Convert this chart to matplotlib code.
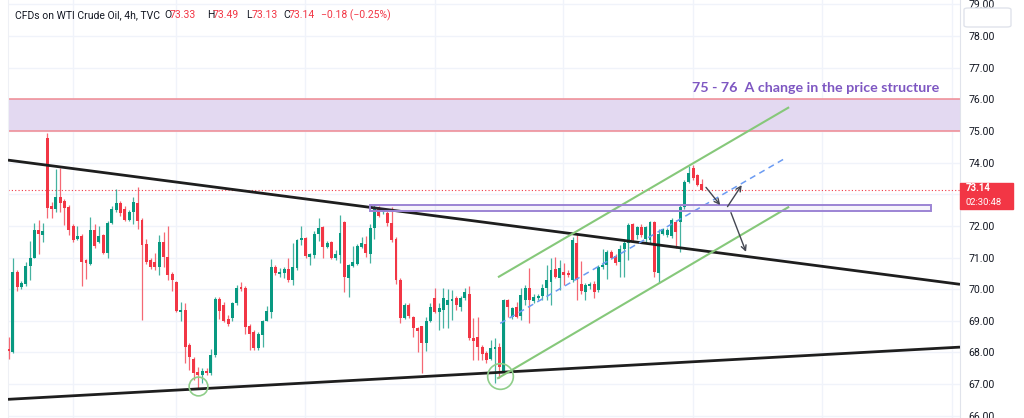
import numpy as np
import matplotlib
matplotlib.use('Agg')
import matplotlib.pyplot as plt
from matplotlib.patches import Rectangle, FancyBboxPatch

# 4h candles, CFDs on WTI Crude Oil
opens = [68.10, 68.02, 70.55, 70.08, 70.15, 70.74, 71.00, 71.87, 71.70, 74.79,
         72.63, 72.52, 72.92, 72.79, 72.60, 72.00, 71.58, 71.68, 70.92, 70.80,
         71.87, 71.50, 71.71, 71.16, 72.10, 72.50, 72.72, 72.55, 72.20, 72.45,
         72.73, 72.19, 71.43, 70.92, 70.87, 70.70, 71.50, 71.03, 70.47, 70.24,
         69.29, 69.34, 68.24, 67.80, 67.37, 67.29, 67.40, 67.35, 67.92, 69.68,
         69.50, 69.05, 69.10, 69.55, 70.08, 70.04, 68.83, 68.66, 68.14, 68.55,
         69.00, 69.29, 70.71, 70.48, 70.51, 70.64, 70.29, 70.66, 71.55, 71.63,
         71.03, 71.08, 71.74, 71.97, 71.32, 71.50, 70.98, 71.08, 72.13, 70.37,
         70.74, 70.80, 71.34, 71.43, 71.10, 71.92, 72.60, 72.43, 72.40, 72.10,
         71.60, 70.29, 69.10, 69.50, 69.12, 68.77, 68.84, 68.29, 69.00, 69.73,
         69.29, 69.34, 69.50, 69.63, 69.71, 69.45, 69.71, 69.85, 68.45, 68.50,
         68.18, 67.99, 67.79, 68.12, 68.18, 67.40, 69.66, 69.13, 69.43, 69.15,
         69.66, 70.03, 69.64, 69.72, 69.78, 70.03, 70.23, 70.64, 70.35, 70.55,
         70.50, 70.29, 71.46, 70.15, 69.90, 70.10, 70.16, 69.97, 70.70, 70.78,
         71.18, 71.05, 70.87, 71.26, 71.45, 72.06, 71.71, 71.97, 71.60, 71.55,
         72.13, 70.52, 71.74, 71.72, 71.68, 72.13, 72.13, 72.60, 73.40, 73.82,
         73.60, 73.33]
highs = [68.50, 71.00, 70.60, 70.25, 70.85, 71.52, 72.10, 72.19, 72.10, 74.93,
         72.75, 73.79, 73.84, 72.85, 72.65, 72.05, 72.00, 71.75, 70.95, 72.29,
         72.05, 72.00, 71.75, 72.15, 72.62, 73.16, 72.78, 72.62, 72.50, 72.90,
         73.24, 72.25, 71.60, 71.00, 71.15, 71.70, 71.80, 72.00, 70.55, 70.25,
         69.60, 69.55, 68.30, 67.85, 67.55, 67.50, 67.50, 68.10, 69.75, 69.75,
         69.60, 69.20, 69.60, 70.13, 70.23, 70.10, 68.90, 68.70, 68.65, 69.03,
         69.47, 70.94, 70.76, 70.68, 70.70, 70.98, 71.45, 71.58, 72.00, 71.66,
         71.15, 71.84, 72.24, 72.00, 71.53, 71.53, 71.25, 72.34, 72.17, 70.80,
         71.37, 71.42, 71.66, 71.68, 72.05, 72.66, 72.64, 72.57, 72.50, 72.60,
         71.65, 70.34, 69.55, 69.55, 69.15, 68.80, 68.85, 69.13, 69.55, 70.03,
         69.55, 70.04, 70.00, 69.97, 69.80, 69.80, 70.03, 70.10, 69.10, 69.13,
         68.25, 68.05, 68.40, 68.46, 68.31, 69.70, 69.70, 69.45, 69.60, 70.04,
         70.13, 70.67, 69.85, 69.85, 70.18, 70.76, 71.00, 71.03, 70.92, 70.84,
         70.60, 71.66, 71.77, 70.90, 70.20, 70.22, 70.25, 70.76, 71.26, 71.24,
         71.25, 71.10, 71.40, 71.60, 72.08, 72.10, 72.00, 72.05, 72.00, 72.17,
         72.17, 71.91, 71.95, 71.92, 72.24, 72.20, 72.65, 73.45, 73.90, 73.92,
         73.65, 73.49]
lows = [67.80, 67.97, 69.95, 70.00, 70.10, 70.29, 70.98, 71.10, 71.50, 72.24,
        72.24, 72.45, 72.45, 72.03, 71.71, 71.50, 71.55, 70.10, 70.31, 70.75,
        71.30, 71.45, 71.10, 71.00, 72.05, 72.45, 72.30, 72.15, 72.15, 72.05,
        71.90, 69.03, 70.80, 70.65, 70.60, 70.45, 70.70, 70.30, 69.95, 69.28,
        69.00, 67.67, 67.45, 67.13, 66.85, 67.05, 67.30, 67.30, 67.85, 69.05,
        68.95, 68.85, 69.00, 69.50, 69.95, 68.60, 68.08, 68.08, 68.08, 68.18,
        68.98, 69.08, 70.45, 70.40, 70.34, 70.24, 70.13, 70.60, 71.40, 71.00,
        70.76, 70.98, 71.53, 70.98, 71.30, 70.95, 70.92, 70.82, 69.92, 69.76,
        70.70, 70.75, 71.30, 71.03, 70.82, 71.60, 72.28, 72.38, 72.00, 71.50,
        70.15, 68.92, 69.05, 69.10, 68.50, 68.03, 67.34, 68.05, 68.95, 69.25,
        68.70, 68.77, 68.77, 69.03, 69.35, 69.30, 69.65, 68.40, 67.77, 67.76,
        67.76, 67.68, 67.75, 67.04, 67.20, 67.32, 69.13, 69.05, 69.10, 69.03,
        69.50, 68.93, 69.55, 69.66, 69.66, 69.66, 69.50, 70.36, 69.97, 70.13,
        70.40, 70.22, 69.66, 69.85, 69.66, 70.00, 69.72, 69.90, 70.65, 70.31,
        70.95, 70.75, 70.40, 70.40, 70.92, 71.50, 71.60, 71.65, 71.50, 71.45,
        70.39, 70.19, 71.70, 71.65, 71.62, 71.30, 71.17, 72.55, 73.35, 73.45,
        73.25, 73.13]
closes = [68.05, 70.55, 70.08, 70.20, 70.74, 71.00, 71.87, 71.73, 71.85, 72.58,
          72.52, 72.92, 72.73, 72.58, 71.87, 71.55, 71.68, 70.87, 70.84, 71.87,
          71.37, 71.68, 71.16, 72.10, 72.52, 72.72, 72.40, 72.20, 72.45, 72.76,
          72.16, 71.40, 70.87, 70.70, 70.69, 71.50, 71.03, 70.45, 70.30, 69.30,
          69.34, 68.18, 67.85, 67.34, 67.29, 67.43, 67.35, 67.92, 69.68, 69.30,
          69.00, 68.90, 69.55, 70.04, 70.00, 68.80, 68.60, 68.14, 68.60, 69.00,
          69.30, 70.71, 70.50, 70.54, 70.64, 70.29, 70.69, 71.55, 71.61, 71.05,
          71.11, 71.74, 71.95, 71.32, 71.45, 70.98, 71.11, 71.79, 70.39, 70.77,
          70.87, 71.37, 71.45, 71.13, 71.92, 72.53, 72.32, 72.50, 72.08, 71.55,
          70.29, 69.08, 69.50, 69.15, 68.77, 68.68, 68.29, 69.00, 69.45, 69.29,
          69.40, 69.71, 69.66, 69.69, 69.50, 69.73, 69.92, 68.45, 68.37, 68.18,
          67.95, 67.76, 68.13, 68.16, 67.55, 69.66, 69.45, 69.40, 69.13, 69.82,
          70.03, 69.66, 69.76, 69.80, 70.03, 70.29, 70.60, 70.39, 70.67, 70.45,
          70.46, 71.55, 70.29, 69.95, 70.13, 70.15, 69.90, 70.71, 70.78, 71.18,
          70.98, 70.82, 71.26, 71.47, 72.03, 71.55, 71.97, 71.71, 71.97, 72.13,
          70.55, 71.74, 71.89, 71.87, 72.19, 71.82, 72.60, 73.40, 73.66, 73.50,
          73.30, 73.14]

change, change_pct = -0.18, -0.25
countdown = '02:30:48'
price_ticks = list(range(66, 80))

# drawings (bar index, price)
upper_trend = ([-0.12, 221.0], [74.08, 70.155])
lower_trend = ([-0.12, 221.0], [66.52, 68.17])
channel_top = ([113.9, 181.1], [70.395, 75.735])
channel_bottom = ([113.7, 181.1], [67.19, 72.59])
channel_mid = ([114.2, 180.8], [68.92, 74.17])
zone_low, zone_high = 75.0, 76.0
box_x, box_low, box_high = (84.0, 214.2), 72.47, 72.66
arrows = [((162.0, 73.22), (165.3, 72.66)),
          ((167.0, 72.61), (170.3, 73.29)),
          ((167.8, 72.42), (171.3, 71.18))]
circles = [(44.1, 66.93, 13.5), (114.1, 67.25, 18.5)]
note = '75 - 76  A change in the price structure'
note_pos = (158.7, 76.24)

UP, DOWN = '#089981', '#f23645'
TXT = '#131722'

fig = plt.figure(figsize=(10.24, 4.18), dpi=100)
ax = fig.add_axes([8 / 1024, 0, 952 / 1024, 1])
xlo, xhi = -0.12, 221.0
ylo, yhi = 65.93, 79.14
ax.set_xlim(xlo, xhi)
ax.set_ylim(ylo, yhi)

# grid; the 73.00 label sits under the last-price tag, so leave it blank
ax.set_xticks([15.0, 38.9, 68.9, 99.1, 128.8, 159.0, 189.0, 219.2])
ax.set_xticklabels([])
ax.set_yticks(price_ticks)
ax.set_yticklabels(['' if p == 73 else '%.2f' % p for p in price_ticks])
ax.yaxis.tick_right()
ax.tick_params(axis='y', length=0, pad=6, labelsize=7.6, labelcolor=TXT)
ax.tick_params(axis='x', length=0)
ax.grid(True, color='#f0f3fa', lw=1)
ax.set_axisbelow(True)
for s in ['top', 'bottom']:
    ax.spines[s].set_visible(False)
ax.spines['right'].set_color('#e0e3eb')
ax.spines['left'].set_color('#eef0f5')
for lab in ax.get_yticklabels():
    lab.set_family('Roboto')

# 75-76 zone
ax.axhspan(zone_low, zone_high, color='#e3d9f1', lw=0, zorder=1)
ax.axhline(zone_low, color='#f08a92', lw=1.1, zorder=2)
ax.axhline(zone_high, color='#f08a92', lw=1.1, zorder=2)

# candles
o = np.array(opens)
h = np.array(highs)
l = np.array(lows)
c = np.array(closes)
x = np.arange(len(c))
col = np.where(c >= o, UP, DOWN)
ax.vlines(x, l, h, colors=col, lw=0.9, alpha=0.75, zorder=3)
body = np.abs(c - o)
body = np.where(body < 0.03, 0.03, body)
ax.bar(x, body, bottom=np.minimum(o, c), width=0.68, color=col, lw=0, zorder=4)

# last price line
ax.axhline(c[-1], color=DOWN, lw=0.8, ls=(0, (1, 2)), zorder=2)

# trend lines
ax.plot(*upper_trend, color='#1e1e1e', lw=2, zorder=5, solid_capstyle='butt')
ax.plot(*lower_trend, color='#1e1e1e', lw=2, zorder=5, solid_capstyle='butt')
ax.plot(*channel_top, color='#86c87a', lw=1.5, zorder=5)
ax.plot(*channel_bottom, color='#86c87a', lw=1.5, zorder=5)
ax.plot(*channel_mid, color='#6b9bf2', lw=1.1, ls=(0, (4, 3)), zorder=5)

# small resistance box
ax.add_patch(Rectangle((box_x[0], box_low), box_x[1] - box_x[0], box_high - box_low,
                       facecolor=(0.58, 0.46, 0.80, 0.08), edgecolor='#9c84d4', lw=1.4, zorder=5))

for (x0, y0), (x1, y1) in arrows:
    ax.annotate('', xy=(x1, y1), xytext=(x0, y0),
                arrowprops=dict(arrowstyle='->', color='#434651', lw=1.0,
                                shrinkA=0, shrinkB=0, mutation_scale=9), zorder=6)

for cx, cy, ms in circles:
    ax.plot(cx, cy, 'o', mfc='none', mec='#8fce8a', ms=ms, mew=1.2, zorder=6)

ax.text(note_pos[0], note_pos[1], note, color='#7e57c2', fontsize=10.3,
        family='Lato', fontweight='bold', va='baseline', ha='left', zorder=7)

# header
hy = 1 - 15 / 418
hdr = dict(fontsize=7.5, family='Roboto', va='center')
fig.text(15 / 1024, hy, 'CFDs on WTI Crude Oil, 4h, TVC', color=TXT, **hdr)
parts = [('O', opens[-1], 164), ('H', highs[-1], 207), ('L', lows[-1], 246), ('C', closes[-1], 283)]
for k, v, px in parts:
    fig.text(px / 1024, hy, k, color=TXT, **hdr)
    fig.text((px + 5.8) / 1024, hy, '%.2f' % v, color=DOWN, **hdr)
fig.text(321 / 1024, hy, '\u2212%.2f (\u2212%.2f%%)' % (-change, -change_pct), color=DOWN, **hdr)

# price label on the scale
fy = (c[-1] - ylo) / (yhi - ylo)
fig.patches.append(Rectangle((960 / 1024, fy - 19.5 / 418), 52.7 / 1024, 26.6 / 418,
                             transform=fig.transFigure, color=DOWN, zorder=5))
fig.text(966 / 1024, fy + 1.5 / 418, '%.2f' % c[-1], color='white', fontsize=6.9, family='Roboto',
         fontweight='bold', va='center', zorder=6)
fig.text(966 / 1024, fy - 12.5 / 418, countdown, color='white', fontsize=6.8,
         family='Roboto', va='center', zorder=6)

# top-right button outline
fig.patches.append(FancyBboxPatch((964 / 1024, 1 - 27 / 418), 47 / 1024, 19 / 418,
                                  boxstyle='round,pad=0,rounding_size=0.004',
                                  transform=fig.transFigure, facecolor='white',
                                  edgecolor='#e0e3eb', lw=1, zorder=5))

fig.savefig('out.png', dpi=100)
